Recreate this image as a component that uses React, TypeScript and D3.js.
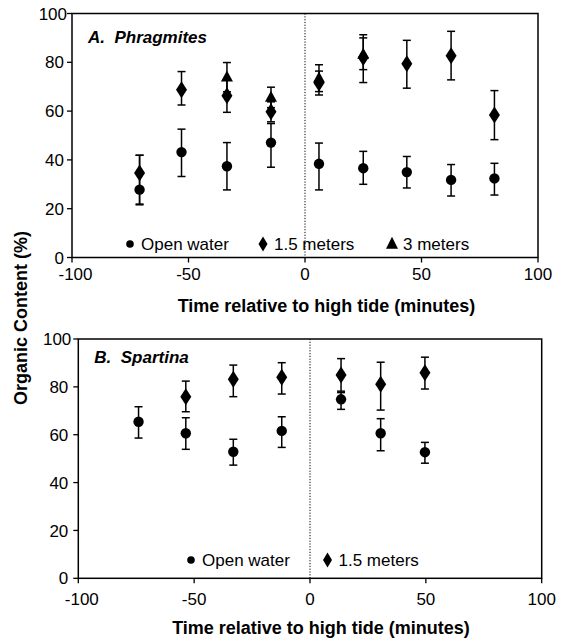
import React from "react";
import * as d3 from "d3";

// ---------- Panel A: Phragmites ----------
const aOpenX = [-71, -53, -33.5, -14.6, 6, 25, 43.7, 62.7, 81.3];
const aOpenY = [27.8, 43.2, 37.4, 47.1, 38.4, 36.6, 35.0, 31.8, 32.4];
const aOpenLo = [21.6, 33.2, 27.7, 37.0, 27.7, 30.0, 28.5, 25.2, 25.6];
const aOpenHi = [41.9, 52.6, 47.1, 54.9, 46.9, 43.5, 41.4, 38.1, 38.6];

const aMid1X = [-71, -53, -33.5, -14.6, 6, 25, 43.7, 62.7, 81.3];
const aMid1Y = [34.6, 68.7, 66.3, 59.7, 71.5, 82.0, 79.4, 82.7, 58.4];
const aMid1Lo = [21.9, 62.5, 59.5, 55.6, 66.6, 71.7, 69.4, 72.8, 48.3];
const aMid1Hi = [41.9, 76.2, 73.1, 63.8, 76.4, 91.3, 89.0, 92.7, 68.4];

const aFar3X = [-33.5, -14.6, 6, 25];
const aFar3Y = [73.9, 65.6, 73.5, 83.3];
const aFar3Lo = [67.9, 61.4, 68.0, 77.0];
const aFar3Hi = [79.9, 69.8, 79.0, 90.0];

// ---------- Panel B: Spartina ----------
const bOpenX = [-74, -53.6, -33.1, -12.2, 13.4, 30.5, 49.6];
const bOpenY = [65.4, 60.6, 52.9, 61.6, 74.8, 60.6, 52.7];
const bOpenLo = [58.6, 53.9, 47.3, 54.7, 70.6, 53.3, 48.1];
const bOpenHi = [71.7, 67.1, 58.1, 67.5, 77.6, 66.7, 56.8];

const bMid1X = [-53.6, -33.1, -12.2, 13.4, 30.5, 49.6];
const bMid1Y = [75.9, 83.2, 84.0, 85.0, 81.1, 85.9];
const bMid1Lo = [69.6, 75.9, 77.0, 78.2, 70.3, 79.1];
const bMid1Hi = [82.4, 89.1, 90.1, 91.8, 90.3, 92.4];

const xTicks = [-100, -50, 0, 50, 100];
const yTicks = [0, 20, 40, 60, 80, 100];

const FONT = "'Liberation Sans', Arial, Helvetica, sans-serif";

type Series = { shape: "circle" | "diamond" | "triangle"; x: number[]; y: number[]; lo: number[]; hi: number[] };

function markerPath(shape: string, size: "big" | "small"): string | null {
  if (shape === "diamond") {
    const w = size === "big" ? 5.5 : 4.5;
    const h = size === "big" ? 8.5 : 7.5;
    return `M0,${-h}L${w},0L0,${h}L${-w},0Z`;
  }
  if (shape === "triangle") {
    const w = 6;
    const h = size === "big" ? 11 : 12;
    return `M0,${-h * 0.6}L${w},${h * 0.4}L${-w},${h * 0.4}Z`;
  }
  return null;
}

function Marker({ shape, x, y, size }: { shape: string; x: number; y: number; size: "big" | "small" }) {
  if (shape === "circle") return <circle cx={x} cy={y} r={size === "big" ? 5.2 : 3.8} fill="#000" />;
  return <path d={markerPath(shape, size) as string} transform={`translate(${x},${y})`} fill="#000" />;
}

type PanelProps = {
  left: number; right: number; top: number; bottom: number;
  letter: string; name: string; titleY: number;
  series: Series[];
  legend: { shape: string; label: string; x: number }[];
  legendY: number;
  xTickLabelDy: number;
  yLabelGap: number;
  xLabelX: number; xLabelY: number;
};

function Panel(p: PanelProps) {
  const x = d3.scaleLinear().domain([-100, 100]).range([p.left, p.right]);
  const y = d3.scaleLinear().domain([0, 100]).range([p.bottom, p.top]);
  const cap = 4;
  return (
    <g>
      {/* zero line */}
      <line x1={x(0)} x2={x(0)} y1={p.top} y2={p.bottom} stroke="#000" strokeWidth={1} strokeDasharray="1.2,1.6" />
      {/* frame */}
      <rect x={p.left} y={p.top} width={p.right - p.left} height={p.bottom - p.top} fill="none" stroke="#000" strokeWidth={1.5} />
      {/* y ticks */}
      {yTicks.map((t) => (
        <g key={"y" + t}>
          <line x1={p.left - 5} x2={p.left} y1={y(t)} y2={y(t)} stroke="#000" strokeWidth={1.3} />
          <text x={p.left - (t === 100 ? p.yLabelGap - 3 : p.yLabelGap)} y={y(t)} dy="0.36em" textAnchor="end" fontSize={17} fontFamily={FONT}>{t}</text>
        </g>
      ))}
      {/* x ticks */}
      {xTicks.map((t) => (
        <g key={"x" + t}>
          <line x1={x(t)} x2={x(t)} y1={p.bottom} y2={p.bottom + 5} stroke="#000" strokeWidth={1.3} />
          <text x={x(t) + (t === -100 ? 3.5 : 0)} y={p.bottom + p.xTickLabelDy} textAnchor="middle" fontSize={17} fontFamily={FONT}>{t}</text>
        </g>
      ))}
      {/* title */}
      <text x={p.left + 16} y={p.titleY} fontSize={17} fontWeight="bold" fontStyle="italic" fontFamily={FONT} xmlSpace="preserve">
        {p.letter + "  " + p.name}
      </text>
      {/* error bars */}
      {p.series.map((s, si) => (
        <g key={"s" + si}>
          {s.x.map((xv, i) => (
            <g key={i}>
              <line x1={x(xv)} x2={x(xv)} y1={y(s.lo[i])} y2={y(s.hi[i])} stroke="#000" strokeWidth={1.5} />
              <line x1={x(xv) - cap} x2={x(xv) + cap} y1={y(s.lo[i])} y2={y(s.lo[i])} stroke="#000" strokeWidth={1.5} />
              <line x1={x(xv) - cap} x2={x(xv) + cap} y1={y(s.hi[i])} y2={y(s.hi[i])} stroke="#000" strokeWidth={1.5} />
            </g>
          ))}
        </g>
      ))}
      {/* markers */}
      {p.series.map((s, si) => (
        <g key={"m" + si}>
          {s.x.map((xv, i) => (
            <Marker key={i} shape={s.shape} x={x(xv)} y={y(s.y[i])} size="big" />
          ))}
        </g>
      ))}
      {/* legend */}
      {p.legend.map((l, i) => (
        <g key={"l" + i}>
          <Marker shape={l.shape} x={l.x} y={p.legendY - 6} size="small" />
          <text x={l.x + 11} y={p.legendY} fontSize={17} fontFamily={FONT}>{l.label}</text>
        </g>
      ))}
      {/* x label */}
      <text x={p.xLabelX} y={p.xLabelY} textAnchor="middle" fontSize={18} fontWeight="bold" fontFamily={FONT}>
        Time relative to high tide (minutes)
      </text>
    </g>
  );
}

export default function App() {
  const seriesA: Series[] = [
    { shape: "circle", x: aOpenX, y: aOpenY, lo: aOpenLo, hi: aOpenHi },
    { shape: "triangle", x: aFar3X, y: aFar3Y, lo: aFar3Lo, hi: aFar3Hi },
    { shape: "diamond", x: aMid1X, y: aMid1Y, lo: aMid1Lo, hi: aMid1Hi },
  ];
  const seriesB: Series[] = [
    { shape: "circle", x: bOpenX, y: bOpenY, lo: bOpenLo, hi: bOpenHi },
    { shape: "diamond", x: bMid1X, y: bMid1Y, lo: bMid1Lo, hi: bMid1Hi },
  ];
  return (
    <svg width={561} height={641} style={{ position: "absolute", left: 0, top: 0, background: "#fff" }}>
      <rect width={561} height={641} fill="#fff" />
      <Panel
        left={72} right={538} top={13.5} bottom={257.5}
        letter="A." name="Phragmites" titleY={43}
        series={seriesA}
        legend={[
          { shape: "circle", label: "Open water", x: 130 },
          { shape: "diamond", label: "1.5 meters", x: 263 },
          { shape: "triangle", label: "3 meters", x: 392 },
        ]}
        legendY={250}
        xTickLabelDy={22}
        yLabelGap={8}
        xLabelX={326.5} xLabelY={312}
      />
      <Panel
        left={78.3} right={541.7} top={339} bottom={578.3}
        letter="B." name="Spartina" titleY={362.5}
        series={seriesB}
        legend={[
          { shape: "circle", label: "Open water", x: 191 },
          { shape: "diamond", label: "1.5 meters", x: 327.5 },
        ]}
        legendY={566}
        xTickLabelDy={26.5}
        yLabelGap={10}
        xLabelX={321} xLabelY={634}
      />
      <text
        transform="translate(27,318) rotate(-90)"
        textAnchor="middle" fontSize={18} fontWeight="bold" fontFamily={FONT}
      >
        Organic Content (%)
      </text>
    </svg>
  );
}
